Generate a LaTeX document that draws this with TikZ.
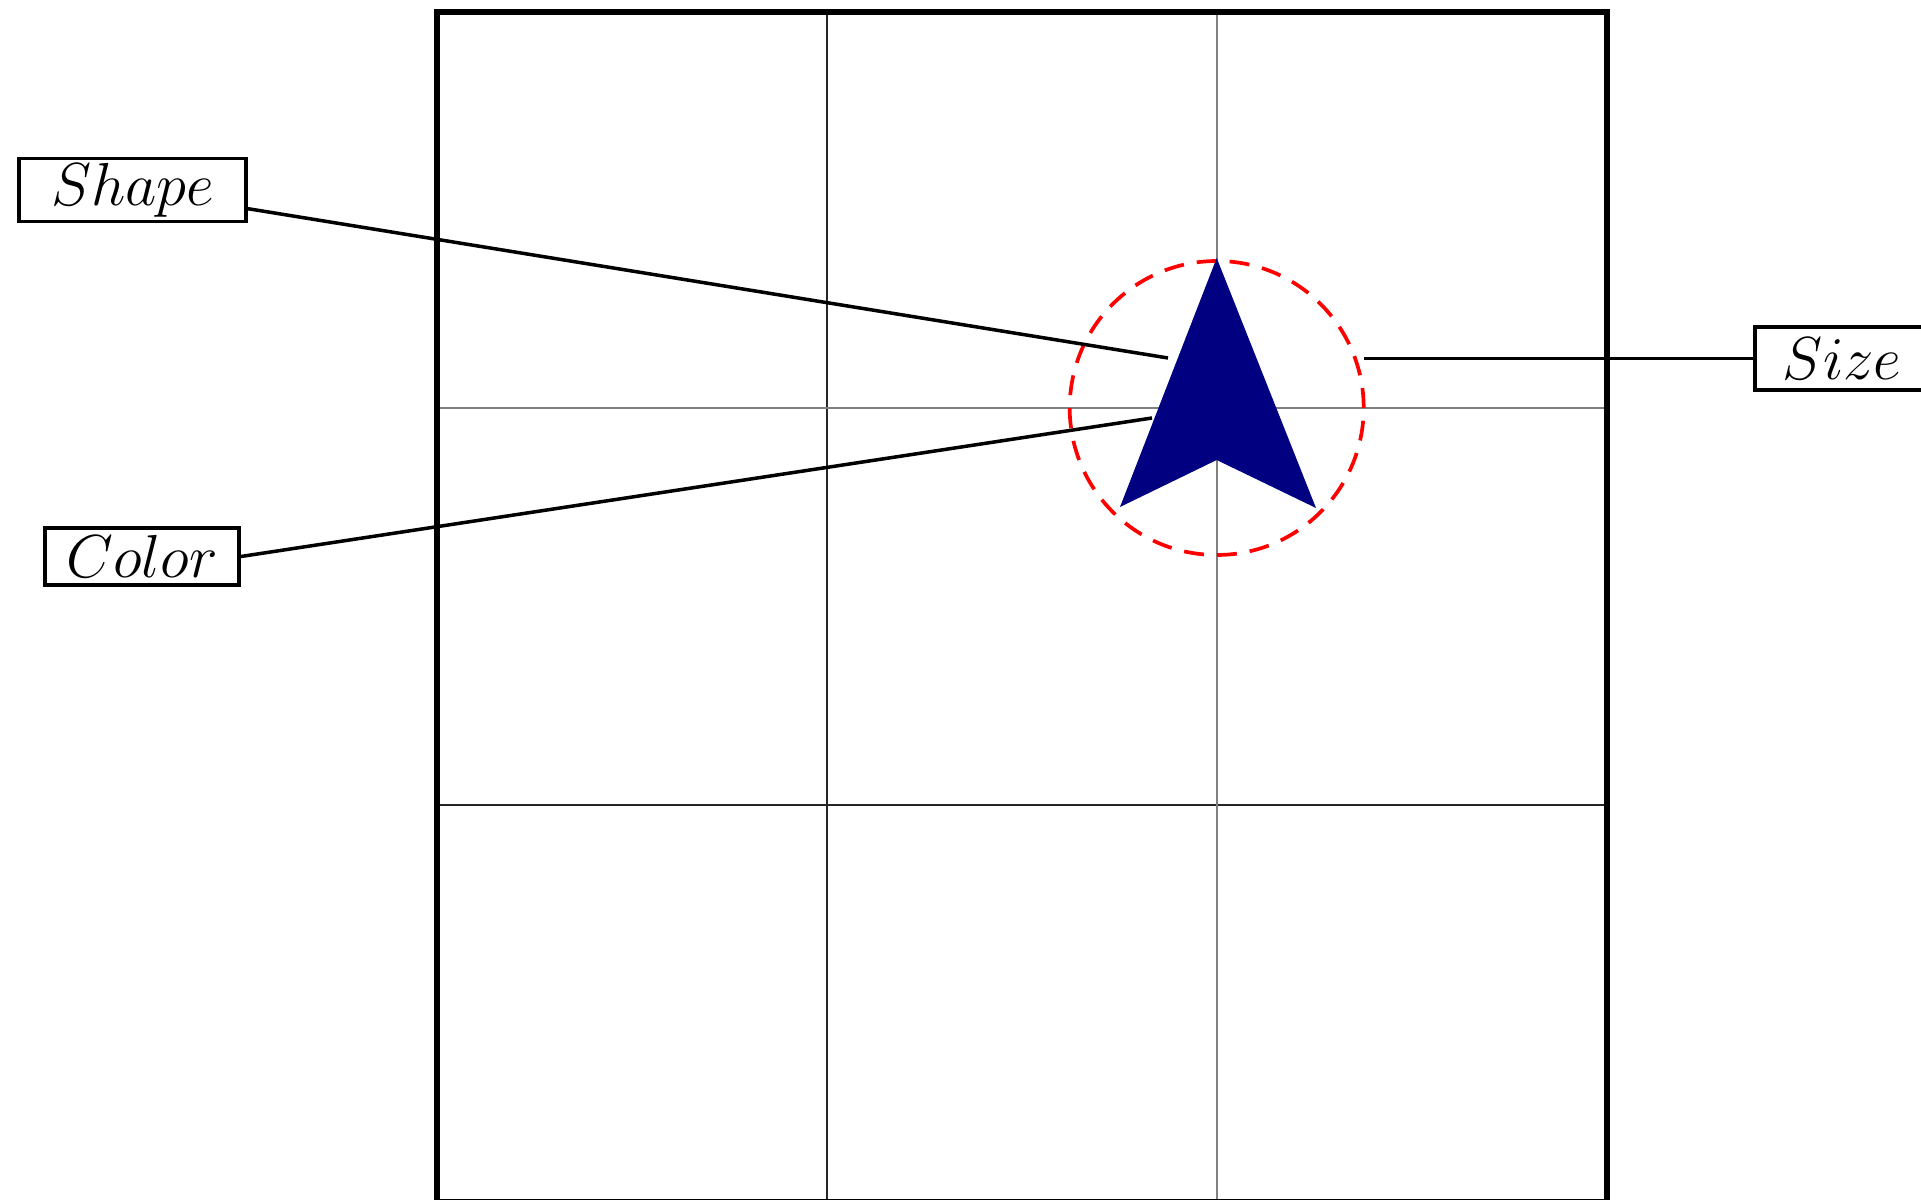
\documentclass[tikz,border=0pt]{standalone}
\usepackage{xcolor}
\definecolor{navyblue}{RGB}{0,0,128}
\usepackage{tikz}

\begin{document}
\begin{tikzpicture}[
    font=\LARGE,
    labelbox/.style={draw, line width=1.1pt, rectangle, inner xsep=0.25cm, inner ysep=0pt, minimum height=0.63cm},
    frameline/.style={line width=1.7pt},
    gridline/.style={line width=0.6pt, black!85},
    midline/.style={line width=0.6pt, black!50},
    ringline/.style={red, line width=1.05pt, dash pattern=on 0.2cm off 0.13cm},
    leader/.style={line width=1pt}
  ]
  \useasboundingbox (0,0) rectangle (19.21,12);

  \draw[gridline] (8.27,-0.1) -- (8.27,11.88);
  \draw[gridline] (4.37,3.95) -- (16.067,3.95);
  \draw[midline] (12.167,-0.1) -- (12.167,11.88);
  \draw[midline] (4.37,7.92) -- (16.067,7.92);
  \draw[frameline] (4.37,-0.02) rectangle (16.067,11.88);

  \draw[ringline] (12.167,7.92) circle (1.47);
  \fill[navyblue] (12.167,9.42) -- (13.16,6.92) -- (12.167,7.40) -- (11.20,6.93) -- cycle;

  \coordinate (tshape) at (11.68,8.42);
  \coordinate (tcolor) at (11.52,7.82);
  \coordinate (tsize) at (13.64,8.415);

  \node (lblshape) [labelbox, minimum width=2.27cm] at (1.325,10.10) {$Shape$};
  \node (lblcolor) [labelbox, minimum width=1.94cm, inner xsep=0.2cm, minimum height=0.57cm] at (1.42,6.435) {$Color$};
  \node (lblsize) [labelbox, anchor=west, inner xsep=0.28cm] at (17.53,8.415) {$Size$};

  \draw[leader] (lblshape) -- (tshape);
  \draw[leader] (lblcolor.east) -- (tcolor);
  \draw[leader] (tsize) -- (lblsize);

\end{tikzpicture}
\end{document}
